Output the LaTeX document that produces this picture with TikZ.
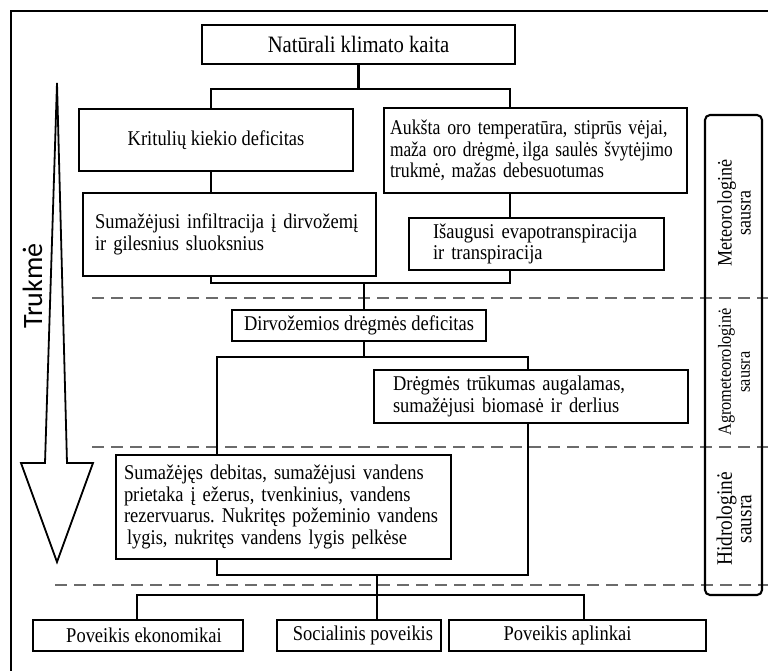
\documentclass[tikz,border=0pt]{standalone}
\usepackage{fontspec}
\usepackage{graphicx}
\setmainfont{Liberation Serif}[FakeStretch=0.88]
\newfontfamily\trukfont{Carlito}
\frenchspacing
\begin{document}
\begin{tikzpicture}[x=1pt,y=-1pt,
  box/.style={draw, line width=2.1pt, inner ysep=0pt, inner xsep=0pt, outer sep=0pt,
    font=\fontsize{21}{21.7}\selectfont},
  conn/.style={line width=2.1pt, line join=miter},
  sep/.style={draw=black!58, line width=2pt, dash pattern=on 12pt off 7pt},
  side/.style={rotate=90, align=center, inner sep=0pt}
]
\useasboundingbox (0,0) rectangle (768,671);
\fill[white] (0,0) rectangle (768,671);

% frame (left and top)
\draw[line width=2.6pt] (768,11) -- (11,11) -- (11,671);

% dashed separators
\draw[sep] (92,298) -- (768,298);
\draw[sep] (92,447) -- (768,447);
\draw[sep] (55,585) -- (768,585);

% side bar
\draw[line width=2.1pt, rounded corners=5pt] (705,115) rectangle (762,595);
\node[side, font=\fontsize{20.5}{19}\selectfont] (met) at (734,213) {Meteorologinė\\sausra};
\node[side, font=\fontsize{18.5}{19}\selectfont] (agr) at (734,372) {Agrometeorologinė\\sausra};
\node[side, font=\fontsize{22}{19.5}\selectfont] (hid) at (734,519) {Hidrologinė\\sausra};

% time arrow
\draw[line width=1.8pt, line join=miter, miter limit=4] (57,83) -- (67,463) -- (93,463) -- (57,562) -- (21,463) -- (45,463) -- cycle;
\node[rotate=90, font=\trukfont\fontsize{28}{30}\selectfont, inner sep=0pt] (truk) at (32.5,286) {Trukmė};

% boxes
\node[box, minimum width=313pt, minimum height=39pt, font=\fontsize{23.5}{24}\selectfont] (top) at (358.5,44.5) {Natūrali klimato kaita};
\node[box, minimum width=274pt, minimum height=62pt] (krit) at (216,140) {Kritulių kiekio deficitas};
\node[box, minimum width=303pt, minimum height=85pt, text width=291pt, inner xsep=6pt, align=left] (auk) at (535.5,150.5)
  {\scalebox{0.965}[1]{Aukšta oro temperatūra, stiprūs vėjai,}\\\scalebox{0.94}[1]{maža oro drėgmė,\,ilga saulės švytėjimo}\\\scalebox{0.965}[1]{trukmė, mažas debesuotumas}};
\node[box, minimum width=293pt, minimum height=83pt, text width=269pt, inner xsep=12pt, align=left] (infil) at (229.5,234.5)
  {\mbox{Sumažėjusi infiltracija į dirvožemį}\\\mbox{ir gilesnius sluoksnius}};
\node[box, minimum width=255pt, minimum height=52pt, text width=207pt, inner xsep=24pt, align=left] (isaug) at (536.5,244)
  {\mbox{Išaugusi evapotranspiracija}\\\mbox{ir transpiracija}};
\node[box, minimum width=254pt, minimum height=31pt] (dirv) at (359,325.5) {Dirvožemios drėgmės deficitas};
\node[box, minimum width=314pt, minimum height=53pt, text width=276pt, inner xsep=19pt, align=left] (dreg) at (531,396.5)
  {\mbox{Drėgmės trūkumas augalamas,}\\\mbox{sumažėjusi biomasė ir derlius}};
\node[box, minimum width=335pt, minimum height=104pt, text width=319pt, inner xsep=8pt, align=left] (suma) at (283.5,507)
  {\mbox{Sumažėjęs debitas, sumažėjusi vandens}\\\mbox{prietaka į ežerus, tvenkinius, vandens}\\\mbox{rezervuarus. Nukritęs požeminio vandens}\\\mbox{\hspace*{3pt}lygis, nukritęs vandens lygis pelkėse}};
\node[box, minimum width=210pt, minimum height=31pt] (eko) at (138,635.5) {\hspace*{12pt}Poveikis ekonomikai};
\node[box, minimum width=164pt, minimum height=31pt] (soc) at (359,635.5) {\hspace*{8pt}Socialinis poveikis};
\node[box, minimum width=257pt, minimum height=31pt] (apl) at (577.5,635.5) {Poveikis aplinkai\hspace*{20pt}};

% bus coordinates
\coordinate (b1L) at (211,89);  \coordinate (b1R) at (510,89);
\coordinate (b2L) at (211,283); \coordinate (b2R) at (510,283); \coordinate (b2M) at (364,283);
\coordinate (b3L) at (217,357); \coordinate (b3R) at (528,357); \coordinate (b3M) at (364,357);
\coordinate (b4L) at (217,575); \coordinate (b4R) at (528,575); \coordinate (b4M) at (377,575);
\coordinate (b5L) at (137,595); \coordinate (b5R) at (584,595); \coordinate (b5M) at (377,595);

% connectors
\draw[conn] (top.south) -- (top.south |- b1L);
\draw[conn] (b1L |- krit.north) -- (b1L) -- (b1R) -- (b1R |- auk.north);
\draw[conn] (b1L |- krit.south) -- (b1L |- infil.north);
\draw[conn] (b1R |- auk.south) -- (b1R |- isaug.north);
\draw[conn] (b2L |- infil.south) -- (b2L) -- (b2R) -- (b2R |- isaug.south);
\draw[conn] (b2M) -- (b2M |- dirv.north);
\draw[conn] (b3M |- dirv.south) -- (b3M);
\draw[conn] (b3L |- suma.north) -- (b3L) -- (b3R) -- (b3R |- dreg.north);
\draw[conn] (b4L |- suma.south) -- (b4L) -- (b4R) -- (b4R |- dreg.south);
\draw[conn] (b4M) -- (b5M);
\draw[conn] (b5L |- eko.north) -- (b5L) -- (b5R) -- (b5R |- apl.north);
\draw[conn] (b5M) -- (b5M |- soc.north);
\end{tikzpicture}
\end{document}
